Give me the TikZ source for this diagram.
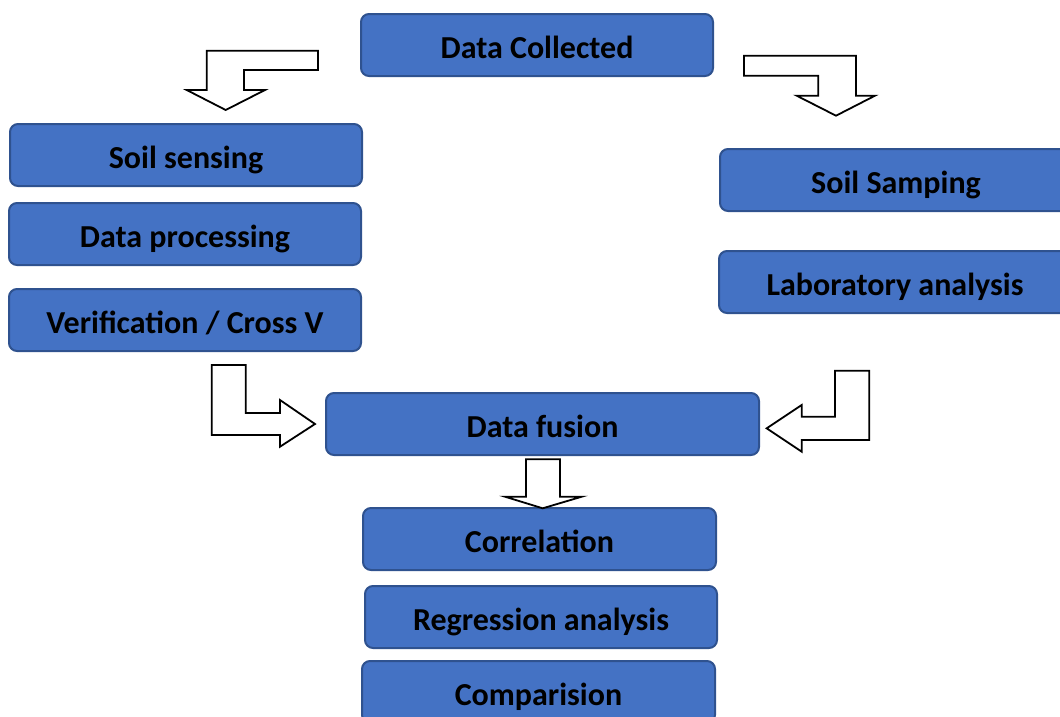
\documentclass[tikz,border=0pt]{standalone}
\usepackage{fontspec}
\setmainfont{Carlito}
\definecolor{boxfill}{HTML}{4472C4}
\definecolor{boxline}{HTML}{2F528F}
\tikzset{
  stage/.style={draw=boxline, line width=2pt, fill=boxfill, rounded corners=8pt,
    minimum height=62pt, inner sep=0pt, text height=27pt, text depth=0pt,
    font=\fontsize{32}{38}\selectfont\bfseries, text=black},
  bent/.style={draw=black, line width=1.8pt, fill=white, line join=miter}
}
\begin{document}
\begin{tikzpicture}[x=1pt,y=-1pt]
\useasboundingbox (0,0) rectangle (1060,716);

% process stages
\node[stage, minimum width=352pt] (collected) at (537,45) {Data Collected};
\node[stage, minimum width=352pt] (sensing) at (186,155) {Soil sensing};
\node[stage, minimum width=352pt] (processing) at (185,234) {Data processing};
\node[stage, minimum width=352pt] (verify) at (185,320) {Verification / Cross V};
\node[stage, minimum width=352pt] (sampling) at (896,180) {Soil Samping};
\node[stage, minimum width=352pt] (lab) at (895,282) {Laboratory analysis};
\node[stage, minimum width=433pt] (fusion) at (542.5,424) {Data fusion};
\node[stage, minimum width=353pt] (correl) at (539.5,539) {Correlation};
\node[stage, minimum width=352pt] (regress) at (541,617) {Regression analysis};
\node[stage, minimum width=353pt] (compare) at (538.5,692) {Comparision};

% bent block arrows
\draw[bent] (318,50.7) -- (206.7,50.7) -- (206.7,90) -- (186.7,90) -- (225.7,110)
  -- (265,90) -- (244,90) -- (244,70) -- (318,70) -- cycle;
\draw[bent] (744,55.7) -- (856,55.7) -- (856,95.7) -- (875,95.7) -- (836,115.7)
  -- (796.7,95.7) -- (818.3,95.7) -- (818.3,75.7) -- (744,75.7) -- cycle;
\draw[bent] (211.7,365) -- (245.7,365) -- (245.7,413) -- (280,413) -- (280,400)
  -- (315,424) -- (280,446.7) -- (280,435) -- (211.7,435) -- cycle;
\draw[bent] (869.3,370.7) -- (835,370.7) -- (835,416.7) -- (801.7,416.7) -- (801.7,405)
  -- (766.7,428.3) -- (801.7,451.7) -- (801.7,440) -- (869.3,440) -- cycle;
\draw[bent] (526,459.3) -- (560,459.3) -- (560,496.7) -- (581.7,496.7) -- (542.7,508.3)
  -- (505,496.7) -- (526,496.7) -- cycle;
\end{tikzpicture}
\end{document}
